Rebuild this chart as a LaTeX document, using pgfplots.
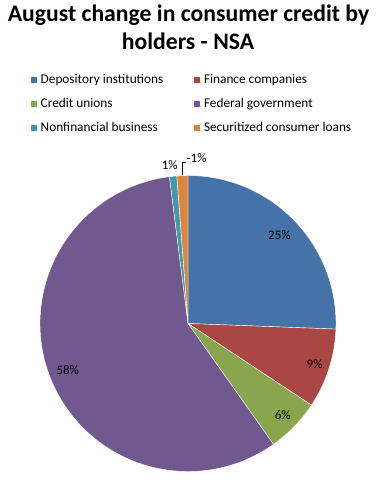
\documentclass[border=0pt]{standalone}
\usepackage{pgfplots}
\pgfplotsset{compat=1.18}
\usepackage{pgfplotstable}
\usepackage{fontspec}
\setmainfont{Carlito}
\definecolor{cDep}{HTML}{4572A7}
\definecolor{cFin}{HTML}{AA4643}
\definecolor{cCU}{HTML}{89A54E}
\definecolor{cFed}{HTML}{71588F}
\definecolor{cNon}{HTML}{4198AF}
\definecolor{cSec}{HTML}{DB843D}

% share of the pie (absolute change, percent), data label, colour, label radius
\pgfplotstableread[col sep=comma]{
name,share,label,color,lr
Depository institutions,25.6,25,cDep,127
Finance companies,8.7,9,cFin,133
Credit unions,5.9,6,cCU,132
Federal government,57.8,58,cFed,129
Nonfinancial business,0.8,1,cNon,0
Securitized consumer loans,1.2,-1,cSec,0
}\piedata

\newcommand\lbl{\fontsize{13}{15}\selectfont}
\newcommand\leg{\fontsize{13.3}{15}\selectfont}

\begin{document}
\begin{tikzpicture}
\begin{axis}[
  x=1pt, y=1pt,
  xmin=0, xmax=379, ymin=0, ymax=487,
  hide axis, scale only axis, clip=false,
  at={(0,0)}, anchor=south west,
]
% title
\node[anchor=base, font=\fontsize{23.7}{28}\selectfont\bfseries, inner sep=0pt]
  at (axis cs:188.5,465.3) {August change in consumer credit by};
\node[anchor=base, font=\fontsize{23.7}{28}\selectfont\bfseries, inner sep=0pt]
  at (axis cs:188,437) {holders - NSA};

% pie slices
\def\cum{0}
\pgfplotsforeachungrouped \i in {0,...,5}{%
  \pgfplotstablegetelem{\i}{share}\of\piedata \let\val\pgfplotsretval
  \pgfplotstablegetelem{\i}{color}\of\piedata \let\col\pgfplotsretval
  \pgfplotstablegetelem{\i}{label}\of\piedata \let\lab\pgfplotsretval
  \pgfplotstablegetelem{\i}{lr}\of\piedata \let\lr\pgfplotsretval
  \pgfplotstablegetelem{\i}{name}\of\piedata \let\nm\pgfplotsretval
  \pgfmathsetmacro\aS{90-3.6*\cum}%
  \pgfmathsetmacro\aE{90-3.6*(\cum+\val)}%
  \pgfmathsetmacro\aM{(\aS+\aE)/2}%
  \edef\temp{\noexpand\fill[\col, draw=white, line width=0.4pt]
    (axis cs:188,163.5) -- ++(\aS:148pt) arc[start angle=\aS, end angle=\aE, radius=148pt] -- cycle;}%
  \temp
  \ifdim\lr pt>0pt
    \edef\temp{\noexpand\path (axis cs:188,163.5) ++(\aM:\lr pt)
      node[font=\noexpand\lbl, inner sep=0pt] {\lab\noexpand\%};}%
    \temp
  \fi
  % legend entry
  \pgfmathtruncatemacro\lc{mod(\i,2)}%
  \pgfmathtruncatemacro\lrw{floor(\i/2)}%
  \pgfmathsetmacro\lx{30.5+163.3*\lc}%
  \pgfmathsetmacro\ly{487-79.7-24*\lrw}%
  \pgfmathsetmacro\lb{487-84-24*\lrw}%
  \edef\temp{\noexpand\fill[\col] (axis cs:\lx,\ly) ++(0pt,-3pt) rectangle ++(6pt,6pt);
    \noexpand\path (axis cs:\lx,\lb) ++(10pt,0pt) node[anchor=base west, inner sep=0pt, font=\noexpand\leg] {\nm};}%
  \temp
  \pgfmathsetmacro\cum{\cum+\val}%
}

% outside labels of the two small slices
\node[font=\lbl, inner sep=0pt] at (axis cs:169.7,322) {1\%};
\draw[black, line width=0.75pt] (axis cs:182.7,312) -- (axis cs:182.7,324.7) -- (axis cs:186,324.7);
\node[font=\lbl, inner sep=0pt, anchor=west] at (axis cs:186.5,328.7) {-1\%};
\end{axis}
\pgfresetboundingbox
\path (0,0) rectangle (379pt,487pt);
\end{tikzpicture}
\end{document}
